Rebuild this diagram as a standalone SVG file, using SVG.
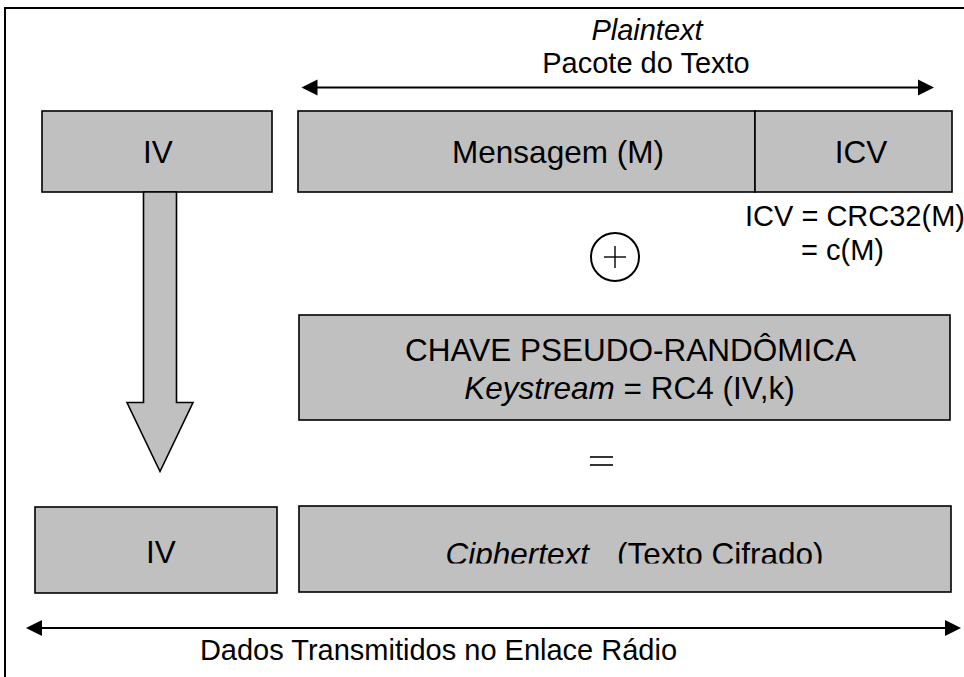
<svg xmlns="http://www.w3.org/2000/svg" width="964" height="677" viewBox="0 0 964 677">
<defs>
<style>
.box{fill:#c0c0c0;stroke:#000;stroke-width:1.6}
.t{font-family:"Liberation Sans",Arial,sans-serif;fill:#000}
.b{font-size:31.5px}
.s{font-size:29px}
.c{text-anchor:middle}
.i{font-style:italic}
.ln{stroke:#000;stroke-width:2;fill:none}
</style>
<clipPath id="cipherClip"><rect x="299" y="506" width="652" height="57.5"/></clipPath>
</defs>
<rect width="964" height="677" fill="#fff"/>
<rect x="5" y="8" width="1000" height="700" fill="none" stroke="#000" stroke-width="2"/>

<g id="plaintext-label">
<text class="t s c i" x="647" y="40">Plaintext</text>
<text class="t s c" x="646" y="73">Pacote do Texto</text>
</g>

<g id="iv-top">
<rect class="box" x="42" y="111" width="230" height="81"/>
<text class="t b c" x="158" y="163">IV</text>
</g>

<g id="mensagem">
<rect class="box" x="298" y="111" width="457" height="81"/>
<text class="t b c" x="558" y="163">Mensagem (M)</text>
</g>

<g id="icv">
<rect class="box" x="755" y="111" width="197" height="81"/>
<text class="t b c" x="861" y="163">ICV</text>
</g>

<g id="icv-formula">
<text class="t s" x="745" y="226">ICV = CRC32(M)</text>
<text class="t s" x="801" y="260">= c(M)</text>
</g>

<g id="xor">
<circle cx="615" cy="257" r="24" fill="#fff" stroke="#000" stroke-width="2"/>
<line x1="604" y1="257" x2="626" y2="257" stroke="#000" stroke-width="1.4"/>
<line x1="615" y1="246" x2="615" y2="268" stroke="#000" stroke-width="1.4"/>
</g>

<g id="keystream">
<rect class="box" x="299" y="315" width="651" height="105"/>
<text class="t b c" x="630.5" y="361">CHAVE PSEUDO-RANDÔMICA</text>
<text class="t b c" x="629.5" y="399"><tspan class="i">Keystream</tspan> = RC4 (IV,k)</text>
</g>

<g id="equals">
<line x1="590" y1="457" x2="613" y2="457" stroke="#000" stroke-width="1.6"/>
<line x1="590" y1="465" x2="613" y2="465" stroke="#000" stroke-width="1.6"/>
</g>

<g id="iv-bottom">
<rect class="box" x="35" y="507" width="242" height="86"/>
<text class="t b c" x="161" y="563">IV</text>
</g>

<g id="ciphertext">
<rect class="box" x="299" y="506" width="652" height="86"/>
<g clip-path="url(#cipherClip)">
<text class="t b i" x="445.5" y="565">Ciphertext</text>
<text class="t b" x="617" y="565">(Texto Cifrado)</text>
</g>
</g>

<g id="bottom-label">
<text class="t s c" x="438.5" y="660">Dados Transmitidos no Enlace Rádio</text>
</g>

<g id="connectors">
<line class="ln" x1="314" y1="87.5" x2="921" y2="87.5"/>
<polygon points="301.5,87.5 317.5,79.5 317.5,95.5" fill="#000"/>
<polygon points="934,87.5 918,79.5 918,95.5" fill="#000"/>
<line class="ln" x1="38" y1="628" x2="948" y2="628"/>
<polygon points="26,628 42,620 42,636" fill="#000"/>
<polygon points="961,628 945,620 945,636" fill="#000"/>
<path d="M143.5,192 L176.5,192 L176.5,402.5 L193,402.5 L160,471.5 L127,402.5 L143.5,402.5 Z" fill="#c0c0c0" stroke="#000" stroke-width="1.6" stroke-linejoin="miter"/>
</g>
</svg>
